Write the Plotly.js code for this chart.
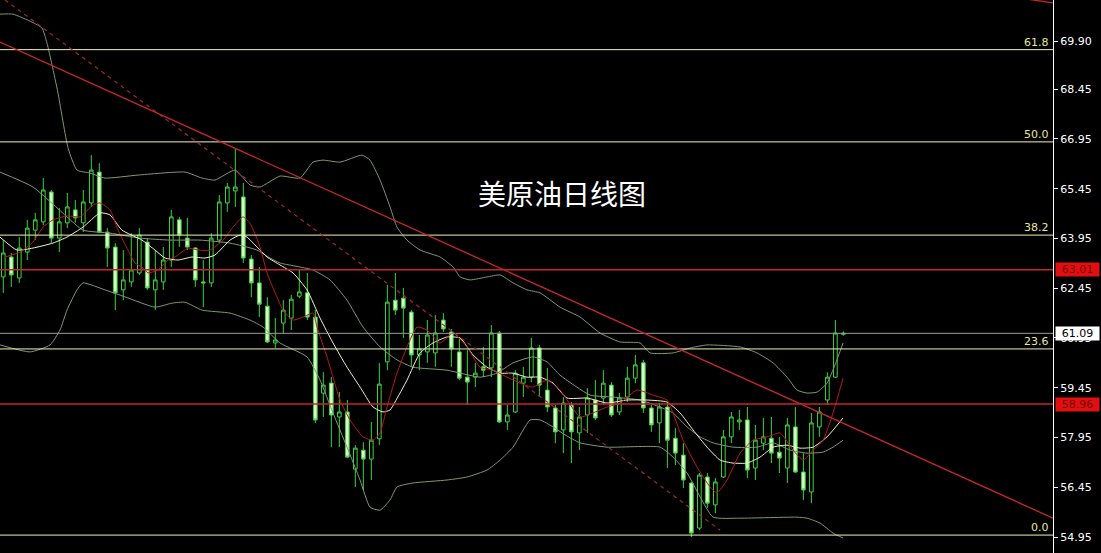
<!DOCTYPE html>
<html><head><meta charset="utf-8">
<script src="https://cdn.plot.ly/plotly-3.0.1.min.js"></script>
<style>html,body{margin:0;padding:0;background:#000;overflow:hidden}#chart{width:1101px;height:553px}</style>
</head><body><div id="chart"></div>
<script>
// ---- candle data (daily OHLC) ----
const openP = [
62.79,63.39,62.76,63.54,64.20,64.45,65.35,63.96,64.42,64.81,
64.42,65.02,65.95,64.14,63.69,62.40,62.64,62.91,63.84,62.40,
62.64,63.30,64.51,63.96,63.66,62.64,62.61,63.90,65.02,65.38,
65.20,63.33,62.61,61.91,60.80,61.40,61.55,62.21,62.31,61.58,
59.29,59.59,58.57,58.72,57.00,57.57,57.30,57.91,60.23,62.09,
62.15,61.73,60.44,60.53,60.50,61.49,61.13,60.53,59.77,59.77,
60.08,60.05,61.10,58.42,58.72,59.59,59.77,60.65,59.38,58.84,
58.18,58.93,58.09,58.63,59.08,59.14,59.53,58.72,59.17,59.74,
60.20,58.84,58.39,58.87,57.93,57.42,56.58,55.22,56.76,55.92,
56.76,57.97,58.42,58.48,57.03,57.78,57.93,57.51,57.03,58.27,
56.91,56.31,58.27,59.08,59.77,61.06];
const highP = [
63.90,63.51,63.99,64.51,64.72,65.77,65.41,64.87,65.32,65.11,
65.41,66.46,66.22,64.26,63.81,63.60,64.11,64.26,63.96,63.60,
63.69,64.81,64.60,64.57,63.69,63.30,64.11,65.26,65.62,66.67,
65.62,63.45,63.09,62.18,61.55,62.09,62.25,63.00,62.91,61.79,
59.92,59.77,59.32,59.08,57.72,57.81,58.42,60.20,62.55,62.91,
62.46,61.79,61.04,61.49,61.64,61.70,61.22,60.98,60.59,60.20,
60.68,61.34,61.16,58.93,59.98,60.08,60.95,60.74,60.05,58.93,
59.17,59.02,58.87,59.44,59.68,59.98,59.62,59.29,60.08,60.44,
60.29,58.93,58.99,58.99,58.24,57.78,56.61,56.88,56.88,56.73,
58.18,58.72,58.78,58.87,58.33,58.54,58.57,57.97,58.54,58.87,
57.48,58.69,58.87,59.92,61.49,61.15];
const lowP = [
62.31,62.49,62.61,63.30,63.90,64.35,63.81,63.54,64.26,64.42,
64.14,64.90,64.11,63.09,61.79,62.09,62.49,62.85,62.40,61.79,
62.40,63.09,63.69,63.60,62.49,61.88,62.49,63.81,64.75,64.90,
63.21,62.18,61.58,60.80,60.65,61.10,61.19,62.15,61.49,58.39,
58.57,57.66,57.66,57.33,56.46,56.37,56.67,57.72,59.98,61.64,
60.95,60.08,59.98,60.20,60.08,61.13,60.08,59.68,58.93,59.47,
59.77,59.77,58.39,58.18,58.69,59.17,59.62,59.17,58.72,57.78,
57.48,57.18,57.57,58.09,58.48,58.93,58.57,58.63,59.02,59.59,
58.69,58.12,57.78,57.03,57.12,56.43,54.95,55.16,55.83,55.67,
56.73,57.78,58.18,56.73,56.67,57.57,57.18,56.88,56.58,56.88,
56.07,55.97,57.97,58.93,59.74,61.02];
const closeP = [
63.51,62.85,63.66,64.26,64.51,65.41,63.96,64.45,64.90,64.57,
65.05,66.01,64.14,63.66,62.31,62.70,63.00,64.05,62.46,62.70,
63.30,64.60,64.05,63.69,62.70,62.61,63.96,65.05,65.50,65.50,
63.36,62.61,61.97,60.83,60.89,61.79,62.12,62.34,61.58,58.48,
59.53,58.63,58.72,57.36,57.63,57.30,57.87,59.56,62.03,61.79,
61.85,60.44,60.62,61.04,61.10,61.22,60.62,59.74,59.62,59.89,
59.98,61.10,58.42,58.63,59.89,59.77,60.65,59.53,58.87,58.12,
58.99,58.12,58.57,59.14,58.54,59.59,58.63,59.14,59.74,60.14,
58.84,58.33,58.87,57.87,57.48,56.67,55.07,56.82,55.97,56.61,
57.97,58.57,58.48,56.97,57.87,57.97,57.48,57.33,58.33,56.91,
56.37,58.39,58.72,59.77,61.10,61.09];
const barIndex = openP.map((_, i) => i);

// ---- Bollinger bands ----
const bbUpperX = [-0.41,1.21,3.59,4.84,5.46,6.09,6.84,8.09,9.21,10.84,12.71,16.84,22.71,24.84,26.46,28.96,30.84,32.09,34.59,37.09,38.71,39.96,42.09,44.84,45.84,47.09,48.34,49.21,50.46,52.09,54.59,56.21,57.09,58.34,60.46,62.09,63.71,65.46,67.09,69.59,72.09,74.59,77.09,79.59,80.84,83.71,85.84,87.96,92.09,94.21,96.21,97.96,99.21,100.46,101.71,102.96,103.96,104.96];
const bbUpperY = [70.71,70.71,70.47,70.29,69.84,69.18,68.33,66.68,66.01,65.92,65.77,65.86,65.95,65.77,65.71,66.01,65.56,65.50,65.83,65.77,66.25,66.31,66.25,66.46,66.31,65.71,64.90,64.29,63.90,63.60,63.39,63.09,62.79,62.70,62.79,62.85,62.61,62.40,62.31,61.88,61.58,61.10,60.83,60.80,60.50,60.50,60.65,60.74,60.68,60.50,60.20,59.77,59.38,59.29,59.32,59.59,60.14,60.80];
const bbMidX = [-0.41,3.71,7.96,9.96,13.34,17.09,20.84,24.59,28.34,31.71,33.34,34.59,37.09,38.71,40.84,42.96,44.96,47.09,49.21,51.21,55.46,59.59,61.71,63.71,66.21,67.96,69.59,73.34,76.21,79.59,82.09,83.71,85.46,87.09,88.71,91.21,94.21,96.21,98.34,100.46,102.46,103.71,104.96];
const bbMidY = [65.95,65.50,64.60,64.20,64.11,63.96,63.90,63.90,63.81,63.60,63.36,63.21,63.09,63.00,62.70,62.09,61.28,60.68,60.29,60.07,59.98,59.77,59.89,60.20,60.38,60.23,59.83,59.23,59.17,59.08,58.87,58.69,58.27,57.97,57.79,57.66,57.66,57.79,57.57,57.48,57.51,57.66,57.87];
const bbLowX = [-0.41,3.34,5.84,7.09,7.96,9.21,9.96,12.71,15.21,18.96,21.09,22.71,24.84,28.34,30.84,32.46,34.59,37.96,39.59,41.21,42.96,44.59,45.84,47.09,48.34,49.21,51.21,55.46,57.96,60.46,62.09,63.71,65.84,67.09,68.71,70.21,72.09,75.46,82.09,83.71,85.46,87.09,88.71,92.09,99.21,100.46,102.09,103.71,104.96];
const bbLowY = [60.74,60.53,60.74,61.19,61.79,62.40,62.61,62.40,62.19,61.88,62.00,62.03,61.79,61.70,61.49,61.28,60.80,60.38,59.68,58.69,57.66,56.67,55.85,55.76,56.07,56.46,56.58,56.67,56.76,56.97,57.27,57.66,58.48,58.48,58.27,58.03,57.79,57.66,57.66,57.36,56.88,56.16,55.55,55.52,55.55,55.52,55.37,55.07,54.92];

// ---- moving averages ----
const maSlowX = [-0.41,1.71,3.71,6.21,7.96,9.96,12.09,13.34,14.84,17.34,18.96,20.21,21.84,23.59,25.21,26.46,28.34,29.59,30.46,31.71,32.96,34.59,36.21,37.96,39.59,41.21,42.96,44.59,46.21,47.46,48.34,48.96,50.46,52.09,53.71,55.46,57.09,58.71,60.46,62.09,63.71,65.46,67.09,68.71,70.46,72.96,75.46,77.96,80.46,82.96,84.59,86.21,87.96,89.59,91.21,92.96,94.59,96.21,97.96,99.59,101.21,102.96,104.96];
const maSlowY = [63.99,63.60,63.66,63.81,63.99,64.29,64.72,64.66,64.20,63.90,63.60,63.36,63.30,63.39,63.36,63.45,63.90,64.05,63.99,63.69,63.39,63.15,62.91,62.40,61.55,60.80,60.07,59.47,58.87,58.72,58.78,59.02,59.68,60.50,60.80,60.98,60.95,60.44,60.07,59.89,59.89,59.77,59.77,59.59,59.14,59.14,58.99,59.08,59.08,59.02,58.69,58.18,57.66,57.27,57.18,57.18,57.36,57.66,57.72,57.63,57.66,57.97,58.54];
const maFastX = [0.21,2.09,3.71,4.96,6.21,7.96,9.59,11.21,12.09,13.34,14.34,15.59,16.46,17.34,18.09,19.34,20.59,21.46,23.09,24.34,25.84,27.46,28.71,29.96,30.84,32.09,32.96,34.21,34.96,36.21,37.46,38.71,39.21,40.46,42.09,43.34,44.96,46.21,47.09,47.96,49.21,50.46,51.71,52.96,54.59,56.21,57.96,59.59,61.21,62.96,64.59,66.21,67.96,69.59,72.09,73.71,75.46,77.09,79.21,81.21,82.96,83.71,84.96,86.71,88.34,89.21,90.46,92.09,93.71,95.46,97.09,98.71,99.96,101.21,102.46,103.71,104.96];
const maFastY = [63.39,63.54,63.84,64.29,64.51,64.63,64.60,64.96,65.02,64.81,64.20,63.60,63.21,63.09,62.91,63.00,63.30,63.39,63.66,63.60,63.60,63.90,64.29,64.60,64.41,63.69,62.91,62.18,61.79,61.49,61.58,61.70,61.28,60.38,59.08,58.48,57.97,57.87,58.09,58.87,59.89,60.68,61.28,61.19,60.80,61.10,60.68,60.07,59.98,59.77,59.59,59.47,59.68,59.38,58.57,58.69,58.87,58.99,59.38,59.23,59.08,58.69,57.87,57.06,56.46,56.28,56.67,57.48,57.87,57.97,58.09,57.57,57.27,57.57,57.87,58.69,59.74];

// ---- levels & trend lines ----
const fibLabels = ["61.8","50.0","38.2","23.6","0.0"];
const fibPrices = [69.64, 66.86, 64.05, 60.62, 55.01];
const keyLevels = [63.01, 58.96];
const lastPrice = 61.09;
const trendSolidX = [-0.41, 131.2], trendSolidY = [69.87, 55.52];
const trendDashX  = [0.21, 89.59],  trendDashY  = [71.14, 55.16];
const trendTopX   = [124.6, 131.2], trendTopY   = [71.28, 71.05];
const tickVals = [69.90,68.45,66.95,65.45,63.95,62.45,60.95,59.45,57.95,56.45,54.95];
const tickText = tickVals.map(v => v.toFixed(2));
const chartTitle = "美原油日线图";

// ---- build ----
const bandColor = '#7d987d';
const traces = [
  {type:'scatter',mode:'lines',x:bbUpperX,y:bbUpperY,line:{color:bandColor,width:1,shape:'spline',smoothing:0.5},hoverinfo:'skip'},
  {type:'scatter',mode:'lines',x:bbMidX,y:bbMidY,line:{color:bandColor,width:1,shape:'spline',smoothing:0.5},hoverinfo:'skip'},
  {type:'scatter',mode:'lines',x:bbLowX,y:bbLowY,line:{color:bandColor,width:1,shape:'spline',smoothing:0.5},hoverinfo:'skip'},
  {type:'scatter',mode:'lines',x:maSlowX,y:maSlowY,line:{color:'#f4f4c4',width:1,shape:'spline',smoothing:0.5},hoverinfo:'skip'},
  {type:'scatter',mode:'lines',x:maFastX,y:maFastY,line:{color:'#b8191c',width:1,shape:'spline',smoothing:0.5},hoverinfo:'skip'},
  {type:'candlestick',x:barIndex,open:openP,high:highP,low:lowP,close:closeP,
   increasing:{line:{color:'#3fd23f',width:1},fillcolor:'#000000'},
   decreasing:{line:{color:'#3fd23f',width:1},fillcolor:'#d6f6c6'},
   whiskerwidth:0,hoverinfo:'skip'}
];

const shapes = [];
fibPrices.forEach(p => shapes.push({type:'line',xref:'paper',x0:0,x1:1,yref:'y',y0:p,y1:p,line:{color:'#f2f2b8',width:1}}));
keyLevels.forEach(p => shapes.push({type:'line',xref:'paper',x0:0,x1:1,yref:'y',y0:p,y1:p,line:{color:'#c4262a',width:1.5}}));
shapes.push({type:'line',xref:'paper',x0:0,x1:1,yref:'y',y0:lastPrice,y1:lastPrice,line:{color:'#9a9a9a',width:1}});
shapes.push({type:'line',xref:'x',yref:'y',x0:trendSolidX[0],x1:trendSolidX[1],y0:trendSolidY[0],y1:trendSolidY[1],line:{color:'#c8282c',width:1.3}});
shapes.push({type:'line',xref:'x',yref:'y',x0:trendDashX[0],x1:trendDashX[1],y0:trendDashY[0],y1:trendDashY[1],line:{color:'#a02a2a',width:1.2,dash:'4px,4px'}});
shapes.push({type:'line',xref:'x',yref:'y',x0:trendTopX[0],x1:trendTopX[1],y0:trendTopY[0],y1:trendTopY[1],line:{color:'#c8282c',width:1.3}});

const annotations = [];
fibPrices.forEach((p,i) => annotations.push({xref:'paper',x:1,xanchor:'right',xshift:-2,yref:'y',y:p,yanchor:'bottom',yshift:-1,
  text:fibLabels[i],showarrow:false,font:{family:'DejaVu Sans',size:11,color:'#e6e69a'}}));
keyLevels.forEach(p => annotations.push({xref:'paper',x:1,xanchor:'left',xshift:2,yref:'y',y:p,yanchor:'middle',
  text:p.toFixed(2),showarrow:false,bgcolor:'#e01010',width:43,height:13,borderpad:0,
  font:{family:'DejaVu Sans',size:11,color:'#7a0606'}}));
annotations.push({xref:'paper',x:1,xanchor:'left',xshift:2,yref:'y',y:lastPrice,yanchor:'middle',
  text:lastPrice.toFixed(2),showarrow:false,bgcolor:'#ffffff',width:43,height:13,borderpad:0,
  font:{family:'DejaVu Sans',size:11,color:'#000000'}});
annotations.push({xref:'paper',yref:'paper',x:0.534,y:0.651,xanchor:'center',yanchor:'middle',text:chartTitle,showarrow:false,
  font:{family:'Noto Sans CJK SC',size:28,color:'#ffffff'}});

const layout = {
  width:1101,height:553,
  margin:{l:0,r:48,t:0,b:0,pad:0},
  paper_bgcolor:'#000000',plot_bgcolor:'#000000',
  showlegend:false,
  xaxis:{range:[-0.41,131.2],visible:false,rangeslider:{visible:false},fixedrange:true},
  yaxis:{range:[54.47,71.136],side:'right',showgrid:false,zeroline:false,
    showline:true,linecolor:'#ffffff',linewidth:1,ticks:'outside',ticklen:4,tickcolor:'#ffffff',
    tickvals:tickVals,ticktext:tickText,tickfont:{family:'DejaVu Sans',size:11,color:'#ffffff'},fixedrange:true},
  boxgap:0.35,
  shapes:shapes,annotations:annotations
};
Plotly.newPlot('chart',traces,layout,{displayModeBar:false,staticPlot:true});
</script></body></html>
